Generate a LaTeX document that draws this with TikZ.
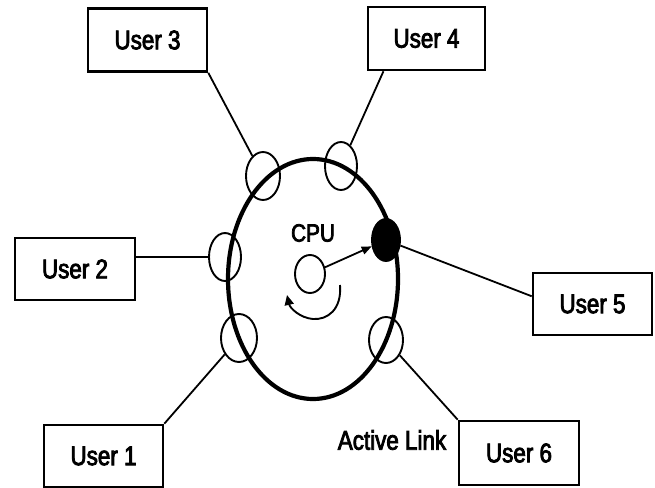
\documentclass[tikz,border=0pt]{standalone}
\usepackage{fontspec}
\setmainfont[FakeStretch=0.83,FakeBold=3]{Liberation Sans}
\usetikzlibrary{shapes.geometric,arrows.meta,calc}
\tikzset{
  userbox/.style={draw, line width=2.6pt, minimum width=119pt, minimum height=63pt, inner sep=0pt, font=\fontsize{27}{29}\selectfont},
  port/.style={draw, ellipse, line width=1.9pt, inner sep=0pt},
  link/.style={line width=1.8pt},
  lbl/.style={font=\fontsize{27}{29}\selectfont, inner sep=0pt}
}
\begin{document}
\begin{tikzpicture}[x=1pt,y=-1pt]
\useasboundingbox (0,0) rectangle (655,487);
% ring
\node[draw, ellipse, line width=4.2pt, minimum width=170pt, minimum height=240pt, inner sep=0pt] (ring) at (313,279) {};
% user boxes
\node[userbox] (u3) at (147.5,40) {User 3};
\node[userbox, minimum width=117pt] (u4) at (426.5,38.5) {User 4};
\node[userbox, minimum width=120pt, minimum height=62pt] (u2) at (75,269) {User 2};
\node[userbox, minimum height=62pt] (u5) at (592.5,304) {User 5};
\node[userbox, minimum height=62pt] (u1) at (103.5,456) {User 1};
\node[userbox, minimum width=120pt, minimum height=64pt] (u6) at (519,453) {User 6};
% ports on the ring
\node[port, minimum width=34pt, minimum height=48pt] (s3) at (263,176) {};
\node[port, minimum width=32pt, minimum height=48pt] (s4) at (341,166) {};
\node[port, fill=black, minimum width=28pt, minimum height=42pt] (s5) at (386,240) {};
\node[port, minimum width=32pt, minimum height=48pt] (s2) at (225,257) {};
\node[port, minimum width=36pt, minimum height=48pt] (s1) at (239,338) {};
\node[port, minimum width=34pt, minimum height=46pt] (s6) at (386,340) {};
% connectors
\draw[link] (u3.south east) -- (s3);
\draw[link] ($(u4.south west)!0.14!(u4.south east)$) -- (s4);
\draw[link] (s2.west) -- (s2.west -| u2.east);
\draw[link] (s5) -- ($(u5.north west)!0.38!(u5.south west)$);
\draw[link] (u1.north east) -- (s1);
\draw[link] (u6.north west) -- (s6);
% CPU
\node[lbl] (cputxt) at (313,233) {\fontsize{25}{27}\selectfont CPU};
\node[draw, ellipse, line width=1.9pt, minimum width=30pt, minimum height=38pt, inner sep=0pt] (cpu) at (310,274) {};
\draw[line width=1.8pt, -{Triangle[length=10pt,width=8pt]}] (cpu) -- (s5);
\coordinate (rotA) at (340,285);
\coordinate (rotB) at (313,319);
\coordinate (rotC) at (287,295);
\draw[line width=1.9pt, -{Triangle[length=10pt,width=9pt]}] (rotA) .. controls (342,310) and (327,320) .. (rotB) .. controls (300,318) and (290,308) .. (rotC);
\node[lbl] (active) at (392,440) {Active Link};
\end{tikzpicture}
\end{document}
